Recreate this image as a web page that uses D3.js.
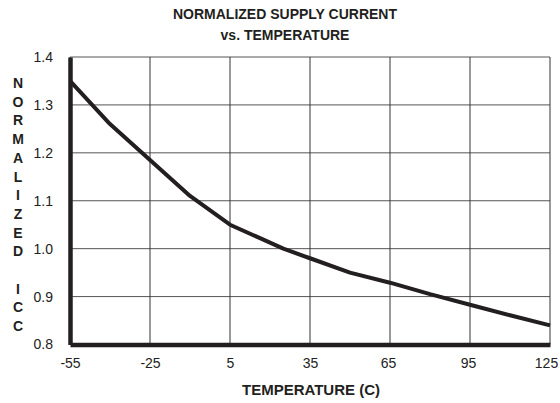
<!DOCTYPE html>
<html>
<head>
<meta charset="utf-8">
<script src="https://cdn.jsdelivr.net/npm/d3@7"></script>
<style>
  body { margin: 0; background: #fff; }
  text { font-family: Arial, "Liberation Sans", sans-serif; fill: #231f20; }
</style>
</head>
<body>
<svg id="chart" width="560" height="403"></svg>
<script>
// readings
var temps = [-55, -40, -25, -10, 5, 15, 25, 35, 50, 65, 80, 95, 110, 125];
var icc = [1.35, 1.26, 1.185, 1.11, 1.05, 1.025, 1.0, 0.98, 0.95, 0.929, 0.905, 0.883, 0.861, 0.84];

var xTicks = [-55, -25, 5, 35, 65, 95, 125];
var yTicks = [0.8, 0.9, 1.0, 1.1, 1.2, 1.3, 1.4];
var titleLines = ["NORMALIZED SUPPLY CURRENT", "vs. TEMPERATURE"];
var yTitle = "NORMALIZED ICC";
var xTitle = "TEMPERATURE (C)";

var svg = d3.select("#chart");
var plotLeft = 70, plotRight = 550, plotTop = 57, plotBottom = 344.5;

var x = d3.scaleLinear().domain([-55, 125]).range([plotLeft, plotRight]);
var y = d3.scaleLinear().domain([0.8, 1.4]).range([plotBottom, plotTop]);

// grid
svg.append("g")
    .selectAll("line")
    .data(yTicks)
    .enter()
    .append("line")
    .attr("x1", plotLeft).attr("x2", plotRight)
    .attr("y1", function(d) { return y(d); })
    .attr("y2", function(d) { return y(d); })
    .style("stroke", "#555")
    .style("stroke-width", 1);

svg.append("g")
    .selectAll("line")
    .data(xTicks)
    .enter()
    .append("line")
    .attr("x1", function(d) { return x(d); })
    .attr("x2", function(d) { return x(d); })
    .attr("y1", plotTop).attr("y2", plotBottom)
    .style("stroke", "#333")
    .style("stroke-width", 1);

// axes (thick)
var xAxis = svg.append("g")
    .attr("transform", "translate(0," + plotBottom + ")")
    .call(d3.axisBottom(x).tickValues(xTicks).tickSize(0).tickPadding(14)
        .tickFormat(function(d) { return String(d); }));
xAxis.select(".domain").style("stroke", "#231f20").style("stroke-width", 4.5);
xAxis.selectAll("text")
    .attr("dx", function(d) { return d == 125 ? -4 : (d > 50 ? -2 : 0); })
    .style("font-size", "14px").style("fill", "#222");

var yAxis = svg.append("g")
    .attr("transform", "translate(" + plotLeft + ",0)")
    .call(d3.axisLeft(y).tickValues(yTicks).tickSize(0).tickPadding(17).tickFormat(d3.format(".1f")));
yAxis.select(".domain").style("stroke", "#231f20").style("stroke-width", 4.5);
yAxis.selectAll("text").style("font-size", "14px").style("fill", "#222");

// curve
var line = d3.line()
    .x(function(d, i) { return x(temps[i]); })
    .y(function(d) { return y(d); });

svg.append("path")
    .datum(icc)
    .attr("d", line)
    .style("fill", "none")
    .style("stroke", "#231f20")
    .style("stroke-width", 4)
    .style("stroke-linejoin", "round");

// titles
svg.append("g")
    .selectAll("text")
    .data(titleLines)
    .enter()
    .append("text")
    .attr("x", 285)
    .attr("y", function(d, i) { return 19 + i * 21; })
    .attr("text-anchor", "middle")
    .style("font-size", "14px")
    .style("font-weight", "bold")
    .text(function(d) { return d; });

svg.append("text")
    .attr("x", 311)
    .attr("y", 395)
    .attr("text-anchor", "middle")
    .style("font-size", "15px")
    .style("font-weight", "bold")
    .text(xTitle);

// stacked vertical letters
svg.append("g")
    .selectAll("text")
    .data(yTitle.split(""))
    .enter()
    .append("text")
    .attr("x", 18)
    .attr("y", function(d, i) { return 88 + i * 18.7; })
    .attr("text-anchor", "middle")
    .style("font-size", "14px")
    .style("font-weight", "bold")
    .text(function(d) { return d; });
</script>
</body>
</html>
